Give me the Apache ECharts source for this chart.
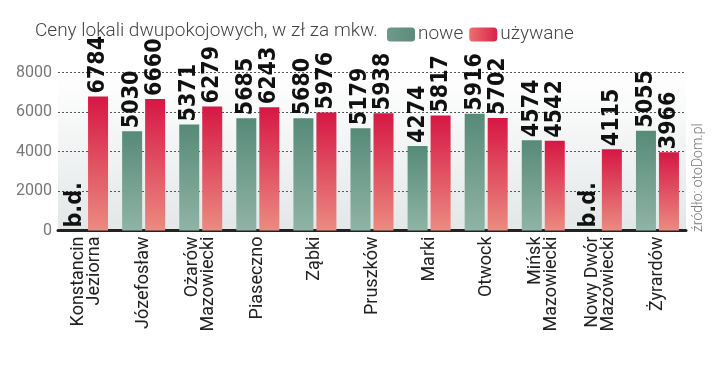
<!DOCTYPE html>
<html>
<head>
<meta charset="utf-8">
<script src="https://cdn.jsdelivr.net/npm/echarts@6/dist/echarts.min.js"></script>
<style>
html,body{margin:0;padding:0;background:#fff;}
#chart{width:720px;height:367px;}
</style>
</head>
<body>
<div id="chart"></div>
<script>
const categories = ['Konstancin\nJeziorna', 'Józefosław', 'Ożarów\nMazowiecki', 'Piaseczno', 'Ząbki', 'Pruszków', 'Marki', 'Otwock', 'Mińsk\nMazowiecki', 'Nowy Dwór\nMazowiecki', 'Żyrardów'];
const nowe = [null, 5030, 5371, 5685, 5680, 5179, 4274, 5916, 4574, null, 5055];
const uzywane = [6784, 6660, 6279, 6243, 5976, 5938, 5817, 5702, 4542, 4115, 3966];
const yTicks = [0, 2000, 4000, 6000, 8000];

const condensed = "'Liberation Sans Narrow', 'DejaVu Sans Condensed', Roboto, sans-serif";
const greenGrad = new echarts.graphic.LinearGradient(0, 0, 0, 1, [
  {offset: 0, color: '#578a78'}, {offset: 1, color: '#8fb4a6'}]);
const redGrad = new echarts.graphic.LinearGradient(0, 0, 0, 1, [
  {offset: 0, color: '#d61744'}, {offset: 1, color: '#eb8b80'}]);

const valueLabel = {
  show: true,
  position: 'top',
  rotate: 90,
  align: 'left',
  verticalAlign: 'middle',
  distance: 3,
  fontFamily: condensed,
  fontWeight: 'bold',
  fontSize: 23,
  color: '#111'
};

const chart = echarts.init(document.getElementById('chart'), null, {renderer: 'canvas'});
chart.setOption({
  animation: false,
  backgroundColor: '#fff',
  title: {
    text: 'Ceny lokali dwupokojowych, w zł za mkw.',
    left: 30, top: 17,
    textStyle: {fontFamily: 'Roboto, sans-serif', fontWeight: 300, fontSize: 19, color: '#444'}
  },
  legend: {
    left: 382, top: 20,
    itemWidth: 28, itemHeight: 14, itemGap: 6,
    icon: 'roundRect',
    textStyle: {fontFamily: 'Roboto, sans-serif', fontWeight: 300, fontSize: 19, color: '#444', padding: [0, 0, 0, -2]},
    data: [
      {name: 'nowe', itemStyle: {color: new echarts.graphic.LinearGradient(0, 0, 1, 0, [{offset: 0, color: '#6f9a8b'}, {offset: 1, color: '#5c8b7a'}])}},
      {name: 'używane', itemStyle: {color: new echarts.graphic.LinearGradient(0, 0, 1, 0, [{offset: 0, color: '#ec6f6f'}, {offset: 1, color: '#d9244a'}])}}
    ]
  },
  grid: {
    left: 58, right: 34, top: 72.5, bottom: 136.5,
    show: true, borderWidth: 0,
    backgroundColor: new echarts.graphic.LinearGradient(0, 0, 0, 1, [
      {offset: 0, color: '#ffffff'}, {offset: 1, color: '#e3e7e8'}])
  },
  xAxis: {
    type: 'category',
    data: categories,
    axisLine: {lineStyle: {color: '#222', width: 3}},
    axisTick: {show: false},
    axisLabel: {
      rotate: 90, interval: 0, margin: 6,
      fontFamily: 'Roboto, sans-serif', fontSize: 18, lineHeight: 16, color: '#222'
    }
  },
  yAxis: {
    type: 'value',
    min: yTicks[0], max: yTicks[yTicks.length - 1], interval: 2000,
    axisLine: {show: false},
    axisTick: {show: false},
    axisLabel: {fontFamily: 'Roboto, sans-serif', fontSize: 16, color: '#777', margin: 6, formatter: v => String(v)},
    splitLine: {lineStyle: {color: '#555', width: 1, type: [2, 2]}}
  },
  series: [
    {
      name: 'nowe', type: 'bar', barWidth: 20, barGap: '15%',
      data: nowe.map(v => v == null ? 0 : v),
      itemStyle: {color: greenGrad},
      label: Object.assign({}, valueLabel, {
        formatter: p => nowe[p.dataIndex] == null ? 'b.d.' : String(p.value)
      })
    },
    {
      name: 'używane', type: 'bar', barWidth: 20,
      data: uzywane,
      itemStyle: {color: redGrad},
      label: valueLabel
    }
  ],
  graphic: [{
    type: 'text',
    x: 698, y: 232,
    rotation: Math.PI / 2,
    style: {
      text: 'źródło: otoDom.pl',
      fontFamily: 'Roboto, sans-serif', fontWeight: 300, fontSize: 14, fill: '#777',
      textAlign: 'left', textVerticalAlign: 'middle'
    }
  }]
});
</script>
</body>
</html>
